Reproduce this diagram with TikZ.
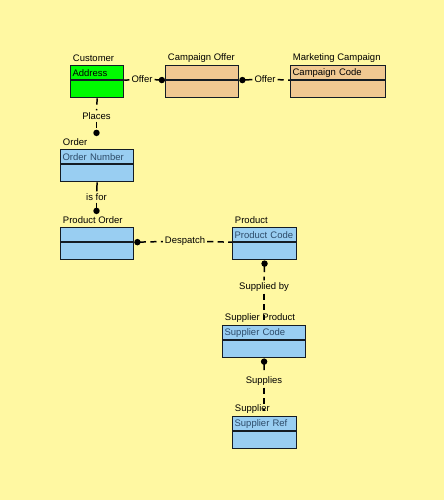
\documentclass[tikz,border=0pt]{standalone}
\usepackage{fontspec}
\setmainfont{Liberation Sans}
\usetikzlibrary{arrows.meta, positioning}
\definecolor{fundoAmarelo}{RGB}{255,248,162}
\definecolor{entVerde}{RGB}{0,250,0}
\definecolor{entBege}{RGB}{240,200,145}
\definecolor{entAzul}{RGB}{153,206,242}
\definecolor{linhaEscura}{RGB}{20,28,36}
\definecolor{textoAttr}{RGB}{45,75,105}

\begin{document}
\begin{tikzpicture}[
    head/.style={draw=linhaEscura, line width=0.7pt, anchor=north west, text width=#1, minimum height=0.28cm, inner xsep=0.04cm, inner ysep=0pt, align=left, text=textoAttr, font=\fontsize{5.4}{6}\selectfont},
    body/.style={draw=linhaEscura, line width=0.7pt, anchor=north, minimum height=0.34cm, inner sep=0pt},
    title/.style={inner sep=1.5pt, font=\fontsize{5.4}{6}\selectfont},
    rel/.style={fill=fundoAmarelo, inner sep=1pt, font=\fontsize{5.4}{6}\selectfont},
    mand/.style={line width=0.85pt, draw=black},
    opt/.style={mand, dash pattern=on 3.5pt off 2.5pt},
    dot/.tip={Circle[length=3.6pt]}
]
    \fill[fundoAmarelo] (0,0) rectangle (8.88,-10);
    \useasboundingbox (0,0) rectangle (8.88,-10);

    % entities
    \node[head=0.98cm, fill=entVerde, text=black] (cust) at (1.40,-1.30) {Address};
    \node[body, fill=entVerde, minimum width=1.06cm, below=0pt of cust] (custB) {};
    \node[title, above right=0pt of cust.north west] (custT) {Customer};

    \node[head=1.38cm, fill=entBege] (offer) at (3.30,-1.30) {};
    \node[body, fill=entBege, minimum width=1.46cm, below=0pt of offer] (offerB) {};
    \node[title, above right=0pt of offer.north west] (offerT) {Campaign Offer};

    \node[head=1.82cm, fill=entBege, text=black] (mcamp) at (5.80,-1.30) {Campaign Code};
    \node[body, fill=entBege, minimum width=1.90cm, below=0pt of mcamp] (mcampB) {};
    \node[title, above right=0pt of mcamp.north west] (mcampT) {Marketing Campaign};

    \node[head=1.38cm, fill=entAzul] (order) at (1.20,-2.98) {Order Number};
    \node[body, fill=entAzul, minimum width=1.46cm, below=0pt of order] (orderB) {};
    \node[title, above right=0pt of order.north west] (orderT) {Order};

    \node[head=1.38cm, fill=entAzul] (porder) at (1.20,-4.54) {};
    \node[body, fill=entAzul, minimum width=1.46cm, below=0pt of porder] (porderB) {};
    \node[title, above right=0pt of porder.north west] (porderT) {Product Order};

    \node[head=1.20cm, fill=entAzul] (prod) at (4.64,-4.54) {Product Code};
    \node[body, fill=entAzul, minimum width=1.28cm, below=0pt of prod] (prodB) {};
    \node[title, above right=0pt of prod.north west] (prodT) {Product};

    \node[head=1.58cm, fill=entAzul] (sprod) at (4.44,-6.50) {Supplier Code};
    \node[body, fill=entAzul, minimum width=1.66cm, below=0pt of sprod] (sprodB) {};
    \node[title, above right=0pt of sprod.north west] (sprodT) {Supplier Product};

    \node[head=1.20cm, fill=entAzul] (supp) at (4.64,-8.32) {Supplier Ref};
    \node[body, fill=entAzul, minimum width=1.28cm, below=0pt of supp] (suppB) {};
    \node[title, above right=0pt of supp.north west] (suppT) {Supplier};

    % relationships
    \node[rel] (r1) at (2.84,-1.58) {Offer};
    \node[rel] (r2) at (5.30,-1.58) {Offer};
    \node[rel] (r3) at (1.93,-2.32) {Places};
    \node[rel] (r4) at (1.93,-3.94) {is for};
    \node[rel] (r5) at (3.70,-4.82) {Despatch};
    \node[rel] (r6) at (5.28,-5.74) {Supplied by};
    \node[rel] (r7) at (5.28,-7.62) {Supplies};

    \draw[mand] (cust.south east) -- (r1);
    \draw[opt, -dot] (r1) -- (offer.south west);
    \draw[mand, dot-] (offer.south east) -- (r2);
    \draw[opt] (r2) -- (mcamp.south west);

    \draw[opt] (custB.south) -- (r3);
    \draw[opt, -dot] (r3) -- (r3 |- orderT.north);

    \draw[mand] (orderB.south) -- (r4);
    \draw[mand, -dot] (r4) -- (r4 |- porderT.north);

    \draw[opt, dot-] (porder.south east) -- (r5);
    \draw[opt] (r5) -- (prod.south west);

    \draw[opt, dot-] (prodB.south) -- (r6);
    \draw[opt] (r6) -- (r6 |- sprodT.base);

    \draw[opt, dot-] (sprodB.south) -- (r7);
    \draw[opt] (r7) -- (r7 |- suppT.base);
\end{tikzpicture}
\end{document}
